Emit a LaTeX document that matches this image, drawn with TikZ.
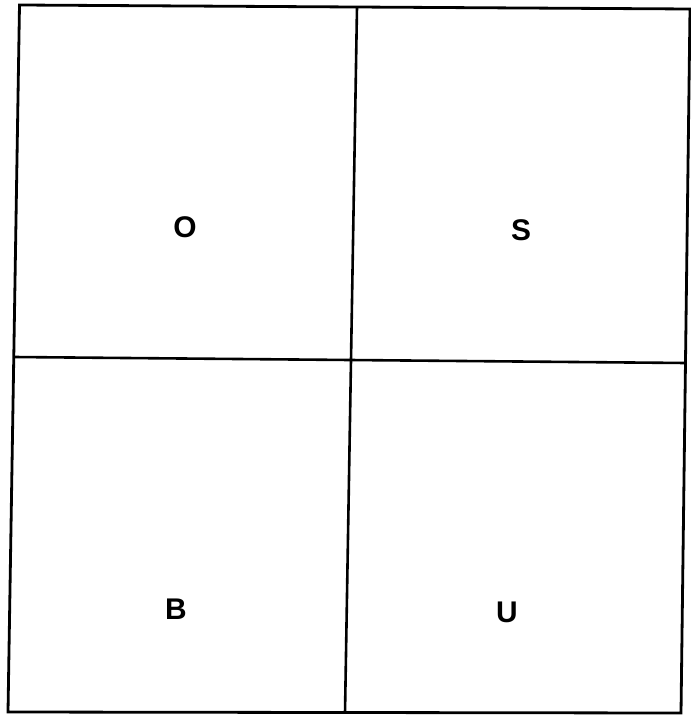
\documentclass[tikz,border=0pt]{standalone}
\usepackage{fontspec}
\setmainfont{Liberation Sans}
\begin{document}
\begin{tikzpicture}[x=1bp,y=-1bp,
  frame/.style={line width=2.8bp,draw=black,line join=miter},
  divider/.style={line width=2.6bp,draw=black},
  letter/.style={font=\fontsize{30}{34}\selectfont\bfseries,inner sep=0pt}]
\useasboundingbox (0,0) rectangle (691,715);
\coordinate (tl) at (19.5,5);
\coordinate (tr) at (690,9);
\coordinate (br) at (681,713);
\coordinate (bl) at (8,712);
\coordinate (vt) at (357,7);
\coordinate (vb) at (345,713);
\coordinate (hl) at (14,357);
\coordinate (hr) at (686,363);
\draw[frame] (tl) -- (tr) -- (br) -- (bl) -- cycle;
\draw[divider] (vt) -- (vb);
\draw[divider] (hl) -- (hr);
\node[letter] (o) at (185,227) {O};
\node[letter] (s) at (521,230) {S};
\node[letter] (b) at (176,609) {B};
\node[letter] (u) at (507,612) {U};
\end{tikzpicture}
\end{document}
